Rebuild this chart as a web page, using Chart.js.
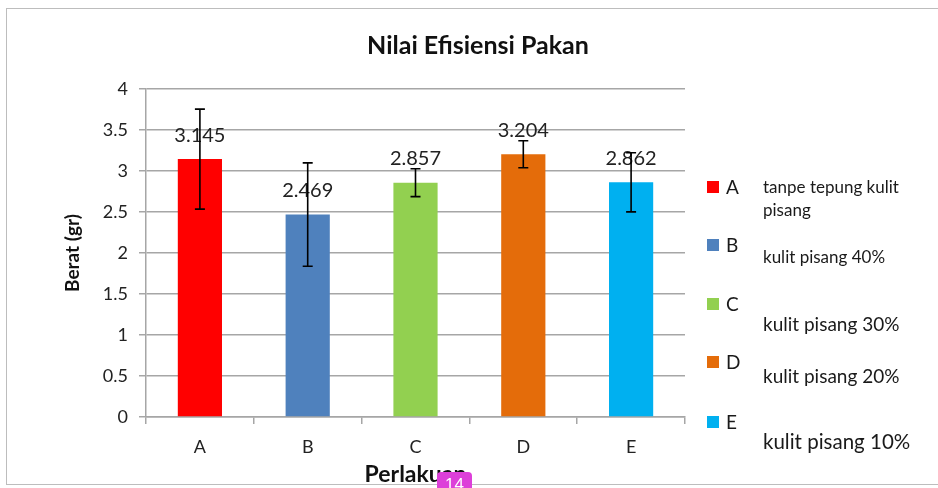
<!DOCTYPE html>
<html>
<head>
<meta charset="utf-8">
<script src="https://cdn.jsdelivr.net/npm/chart.js@4"></script>
<style>
  html, body { margin: 0; padding: 0; background: #fff; }
  #wrap { position: relative; width: 938px; height: 488px; overflow: hidden; font-family: Lato, "Open Sans", sans-serif; }
  #frame { position: absolute; left: 6px; top: 8px; width: 940px; height: 477px; border: 1px solid #bdbdbd; box-sizing: border-box; }
  #legend { position: absolute; left: 0; top: 0; width: 938px; height: 488px; pointer-events: none; color: #1a1a1a; }
  .sw { position: absolute; width: 12px; height: 12px; }
  .lt { position: absolute; font-size: 19px; line-height: 20px; }
  .ds { position: absolute; line-height: 20px; }
  #badge { position: absolute; left: 437px; top: 472px; width: 35px; height: 22px; background: #dd3fd9; border-radius: 4px; color: #fff; font: 17px "Liberation Sans", sans-serif; text-align: center; line-height: 26px; }
</style>
</head>
<body>
<div id="wrap">
  <div id="frame"></div>
  <canvas id="efisiensiChart" width="938" height="488"></canvas>
  <div id="legend"></div>
  <div id="badge">14</div>
</div>
<script>
// data
const perlakuan = ['A', 'B', 'C', 'D', 'E'];
const nilai = [3.145, 2.469, 2.857, 3.204, 2.862];
const galat = [0.61, 0.63, 0.17, 0.165, 0.36];
const keterangan = ['tanpe tepung kulit pisang', 'kulit pisang 40%', 'kulit pisang 30%', 'kulit pisang 20%', 'kulit pisang 10%'];
const warna = ['#ff0000', '#4f81bd', '#92d050', '#e46c0a', '#00b0f0'];
const yTicks = [0, 0.5, 1, 1.5, 2, 2.5, 3, 3.5, 4];
const judul = 'Nilai Efisiensi Pakan';

const FONT = 'Lato, "Open Sans", sans-serif';

// error bars + value labels drawn on top of bars, title centred on the whole frame
const errorBars = {
    id: 'errorBars',
    afterDatasetsDraw(chart) {
        const ctx = chart.ctx;
        const y = chart.scales.y;
        const meta = chart.getDatasetMeta(0);
        ctx.save();
        // value labels
        ctx.font = '20px ' + FONT;
        ctx.fillStyle = '#222';
        ctx.textAlign = 'center';
        ctx.textBaseline = 'middle';
        meta.data.forEach((bar, i) => {
            ctx.fillText(nilai[i].toFixed(3), bar.x, bar.y - 24);
        });
        // error bars
        ctx.strokeStyle = '#000';
        ctx.lineWidth = 1.6;
        meta.data.forEach((bar, i) => {
            const top = y.getPixelForValue(nilai[i] + galat[i]);
            const bot = y.getPixelForValue(nilai[i] - galat[i]);
            ctx.beginPath();
            ctx.moveTo(bar.x, top); ctx.lineTo(bar.x, bot);
            ctx.moveTo(bar.x - 5, top); ctx.lineTo(bar.x + 5, top);
            ctx.moveTo(bar.x - 5, bot); ctx.lineTo(bar.x + 5, bot);
            ctx.stroke();
        });
        // title
        ctx.font = 'bold 25px ' + FONT;
        ctx.fillStyle = '#111';
        ctx.fillText(judul, 478, 46);
        ctx.restore();
    }
};

new Chart(document.getElementById('efisiensiChart').getContext('2d'), {
    type: 'bar',
    data: {
        labels: perlakuan,
        datasets: [{
            data: nilai,
            backgroundColor: warna,
            borderWidth: 0,
            barPercentage: 0.41,
            categoryPercentage: 1
        }]
    },
    plugins: [errorBars],
    options: {
        responsive: false,
        animation: false,
        layout: { padding: { left: 0, right: 253, top: 89, bottom: 0 } },
        plugins: {
            legend: { display: false },
            tooltip: { enabled: false },
            title: { display: false }
        },
        scales: {
            x: {
                offset: true,
                grid: { offset: true, drawOnChartArea: false, color: '#a6a6a6', tickLength: 7, lineWidth: 1.5 },
                border: { color: '#a6a6a6', width: 1.5 },
                ticks: { color: '#222', font: { family: FONT, size: 18 }, padding: 12 },
                title: {
                    display: true, text: 'Perlakuan', color: '#111',
                    font: { family: FONT, size: 23, weight: 'bold', lineHeight: 1.2 },
                    padding: { top: 0, bottom: 0 }
                },
                afterFit(scale) { scale.height = 71; }
            },
            y: {
                min: 0, max: 4,
                afterBuildTicks(scale) { scale.ticks = yTicks.map(v => ({ value: v })); },
                grid: { color: '#a6a6a6', tickLength: 7, lineWidth: 1.5 },
                border: { color: '#a6a6a6', width: 1.5 },
                ticks: { color: '#222', font: { family: FONT, size: 18 }, padding: 11, callback: v => String(v) },
                title: {
                    display: true, text: 'Berat (gr)', color: '#111',
                    font: { family: FONT, size: 19, weight: 'bold', lineHeight: 1.2 },
                    padding: { top: 61, bottom: 0 }
                },
                afterFit(scale) { scale.width = 146; }
            }
        }
    }
});

// legend on the right, laid out like the original
const legend = document.getElementById('legend');
const rowY = [187, 245, 304, 362, 422];
const descY = [[187, 210], [257], [324], [376], [441]];
const descSize = [17, 17, 19, 19, 20.5];
perlakuan.forEach((p, i) => {
    const sw = document.createElement('div');
    sw.className = 'sw';
    sw.style.background = warna[i];
    sw.style.left = '707px';
    sw.style.top = (rowY[i] - 6) + 'px';
    legend.appendChild(sw);
    const lt = document.createElement('div');
    lt.className = 'lt';
    lt.textContent = p;
    lt.style.left = '726px';
    lt.style.top = (rowY[i] - 10) + 'px';
    legend.appendChild(lt);
    const lines = i === 0 ? ['tanpe tepung kulit', 'pisang'] : [keterangan[i]];
    lines.forEach((t, k) => {
        const d = document.createElement('div');
        d.className = 'ds';
        d.textContent = t;
        d.style.left = '763px';
        d.style.fontSize = descSize[i] + 'px';
        d.style.top = (descY[i][k] - 10) + 'px';
        legend.appendChild(d);
    });
});
</script>
</body>
</html>
